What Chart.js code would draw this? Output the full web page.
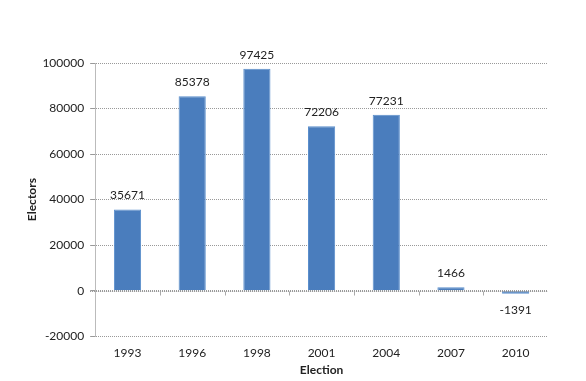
<!DOCTYPE html>
<html><head><meta charset="utf-8">
<script src="https://cdn.jsdelivr.net/npm/chart.js@4/dist/chart.umd.min.js"></script>
<style>html,body{margin:0;padding:0;background:#fff}#wrap{width:586px;height:381px}</style>
</head><body><div id="wrap"><canvas id="c" width="586" height="381"></canvas></div>
<script>
const categories = ['1993','1996','1998','2001','2004','2007','2010'];
const electors = [35671, 85378, 97425, 72206, 77231, 1466, -1391];
const yTicks = [-20000, 0, 20000, 40000, 60000, 80000, 100000];

const FONT = 'Lato, "Liberation Sans", sans-serif';

const labelPlugin = {
  id: 'barLabels',
  afterDatasetsDraw(chart) {
    const ctx = chart.ctx;
    const meta = chart.getDatasetMeta(0);
    ctx.save();
    ctx.font = '12px ' + FONT;
    ctx.fillStyle = '#222';
    ctx.textAlign = 'center';
    ctx.textBaseline = 'middle';
    meta.data.forEach((bar, i) => {
      const v = electors[i];
      const y = v >= 0 ? bar.y - 14 : bar.y + 16;
      ctx.fillText(String(v), bar.x, y);
    });
    ctx.restore();
  }
};

const zeroTicks = {
  id: 'zeroTicks',
  afterDatasetsDraw(chart) {
    const ctx = chart.ctx;
    const x = chart.scales.x, y = chart.scales.y;
    const y0 = Math.round(y.getPixelForValue(0)) + 0.5;
    ctx.save();
    ctx.strokeStyle = '#888';
    ctx.lineWidth = 1;
    ctx.setLineDash([1, 1]);
    ctx.beginPath();
    ctx.moveTo(x.left - 5, y0); ctx.lineTo(x.right, y0);
    ctx.stroke();
    ctx.setLineDash([]);
    ctx.strokeStyle = '#aaa';
    for (let i = 1; i < categories.length; i++) {
      const px = Math.round((x.getPixelForValue(i - 1) + x.getPixelForValue(i)) / 2) + 0.5;
      ctx.beginPath(); ctx.moveTo(px, y0); ctx.lineTo(px, y0 + 4); ctx.stroke();
    }
    ctx.restore();
  }
};

new Chart(document.getElementById('c'), {
  type: 'bar',
  data: {
    labels: categories,
    datasets: [{
      data: electors,
      backgroundColor: '#4a7dbd',
      borderColor: '#5b8fcc',
      borderWidth: 1,
      categoryPercentage: 1,
      barPercentage: 0.42
    }]
  },
  options: {
    responsive: false,
    animation: false,
    devicePixelRatio: 1,
    layout: { padding: { left: 25, right: 38, top: 63, bottom: 4 } },
    plugins: { legend: { display: false }, tooltip: { enabled: false } },
    scales: {
      x: {
        grid: { display: false },
        border: { display: false },
        ticks: { color: '#222', font: { family: FONT, size: 12 }, padding: 2, maxRotation: 0 },
        title: { display: true, text: 'Election', color: '#222', font: { family: FONT, size: 12, weight: 'bold' }, padding: { top: 0, bottom: 0 } }
      },
      y: {
        min: -20000, max: 100000,
        afterBuildTicks(scale) { scale.ticks = yTicks.map(v => ({ value: v })); },
        grid: {
          color: '#999',
          lineWidth: 1,
          tickLength: 5,
          drawTicks: true
        },
        border: { display: true, color: '#bbb', dash: [1, 1] },
        ticks: { color: '#222', font: { family: FONT, size: 12 }, padding: 6, callback: v => String(v) },
        title: { display: true, text: 'Electors', color: '#222', font: { family: FONT, size: 12, weight: 'bold' }, padding: { top: 0, bottom: -3 } }
      }
    }
  },
  plugins: [labelPlugin, zeroTicks]
});
</script>
</body></html>
